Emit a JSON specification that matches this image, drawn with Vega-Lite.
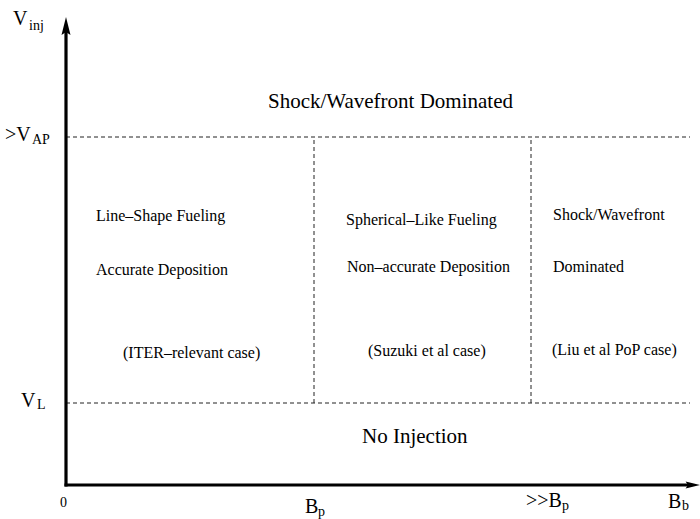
{
  "$schema": "https://vega.github.io/schema/vega-lite/v6.json",
  "width": 700,
  "height": 519,
  "autosize": {"type": "fit", "contains": "padding"},
  "padding": 0,
  "background": "white",
  "config": {"view": {"stroke": null}, "text": {"font": "Liberation Serif", "color": "black"}},
  "datasets": {
    "lines": [
      {"part": "axis", "x": 0, "x2": 0, "y": -1.5, "y2": 455},
      {"part": "axis", "x": -1.5, "x2": 622, "y": 0, "y2": 0},
      {"part": "dash", "x": 0, "x2": 624, "y": 348, "y2": 348},
      {"part": "dash", "x": 0, "x2": 624, "y": 82, "y2": 82},
      {"part": "dash", "x": 248, "x2": 248, "y": 82, "y2": 348},
      {"part": "dash", "x": 465, "x2": 465, "y": 82, "y2": 348}
    ],
    "arrows": [
      {"dir": "up", "x": 0, "y": 458},
      {"dir": "right", "x": 626, "y": 0}
    ],
    "labels": [
      {"kind": "title", "text": "Shock/Wavefront Dominated", "x": 202, "y": 377},
      {"kind": "title", "text": "No Injection", "x": 296, "y": 42},
      {"kind": "body", "text": "Line–Shape Fueling", "x": 30, "y": 264},
      {"kind": "body", "text": "Accurate Deposition", "x": 30, "y": 210},
      {"kind": "body", "text": "(ITER–relevant case)", "x": 57, "y": 127},
      {"kind": "body", "text": "Spherical–Like Fueling", "x": 280, "y": 260},
      {"kind": "body", "text": "Non–accurate Deposition", "x": 281, "y": 213},
      {"kind": "body", "text": "(Suzuki et al case)", "x": 302, "y": 129},
      {"kind": "body", "text": "Shock/Wavefront", "x": 487, "y": 265},
      {"kind": "body", "text": "Dominated", "x": 487, "y": 213},
      {"kind": "body", "text": "(Liu et al PoP case)", "x": 486, "y": 130},
      {"kind": "main", "text": "V", "x": -53, "y": 460},
      {"kind": "main", "text": ">V", "x": -61, "y": 344},
      {"kind": "main", "text": "V", "x": -45, "y": 78},
      {"kind": "main", "text": "B", "x": 239, "y": -28},
      {"kind": "main", "text": ">>B", "x": 460, "y": -22},
      {"kind": "main", "text": "B", "x": 602, "y": -23},
      {"kind": "sub", "text": "inj", "x": -37, "y": 455},
      {"kind": "sub", "text": "AP", "x": -34, "y": 341},
      {"kind": "sub", "text": "L", "x": -29, "y": 76},
      {"kind": "sub", "text": "p", "x": 252, "y": -31},
      {"kind": "sub", "text": "p", "x": 496, "y": -25},
      {"kind": "sub", "text": "b", "x": 616, "y": -25},
      {"kind": "sub", "text": "0", "x": -6, "y": -22}
    ]
  },
  "layer": [
    {
      "data": {"name": "lines"},
      "transform": [{"filter": "datum.part === 'dash'"}],
      "mark": {"type": "rule", "strokeWidth": 1, "strokeDash": [4, 3], "color": "#222222"},
      "encoding": {
        "x": {"field": "x", "type": "quantitative", "scale": {"domain": [-66, 634], "nice": false, "zero": false}, "axis": null},
        "x2": {"field": "x2"},
        "y": {"field": "y", "type": "quantitative", "scale": {"domain": [-34, 485], "nice": false, "zero": false}, "axis": null},
        "y2": {"field": "y2"}
      }
    },
    {
      "data": {"name": "lines"},
      "transform": [{"filter": "datum.part === 'axis'"}],
      "mark": {"type": "rule", "strokeWidth": 3.2, "color": "black", "strokeCap": "butt"},
      "encoding": {
        "x": {"field": "x", "type": "quantitative", "scale": {"domain": [-66, 634], "nice": false, "zero": false}, "axis": null},
        "x2": {"field": "x2"},
        "y": {"field": "y", "type": "quantitative", "scale": {"domain": [-34, 485], "nice": false, "zero": false}, "axis": null},
        "y2": {"field": "y2"}
      }
    },
    {
      "data": {"name": "arrows"},
      "transform": [{"filter": "datum.dir === 'up'"}],
      "mark": {"type": "point", "filled": true, "color": "black", "opacity": 1, "size": 400, "shape": "M0,-1L-0.45,0.8L0,0.5L0.45,0.8Z"},
      "encoding": {
        "x": {"field": "x", "type": "quantitative", "scale": {"domain": [-66, 634], "nice": false, "zero": false}, "axis": null},
        "y": {"field": "y", "type": "quantitative", "scale": {"domain": [-34, 485], "nice": false, "zero": false}, "axis": null}
      }
    },
    {
      "data": {"name": "arrows"},
      "transform": [{"filter": "datum.dir === 'right'"}],
      "mark": {"type": "point", "filled": true, "color": "black", "opacity": 1, "size": 256, "shape": "M1,0L-0.8,-0.45L-0.5,0L-0.8,0.45Z"},
      "encoding": {
        "x": {"field": "x", "type": "quantitative", "scale": {"domain": [-66, 634], "nice": false, "zero": false}, "axis": null},
        "y": {"field": "y", "type": "quantitative", "scale": {"domain": [-34, 485], "nice": false, "zero": false}, "axis": null}
      }
    },
    {
      "data": {"name": "labels"},
      "transform": [{"filter": "datum.kind === 'title'"}],
      "mark": {"type": "text", "align": "left", "baseline": "alphabetic", "fontSize": 21},
      "encoding": {
        "x": {"field": "x", "type": "quantitative", "scale": {"domain": [-66, 634], "nice": false, "zero": false}, "axis": null},
        "y": {"field": "y", "type": "quantitative", "scale": {"domain": [-34, 485], "nice": false, "zero": false}, "axis": null},
        "text": {"field": "text"}
      }
    },
    {
      "data": {"name": "labels"},
      "transform": [{"filter": "datum.kind === 'body'"}],
      "mark": {"type": "text", "align": "left", "baseline": "alphabetic", "fontSize": 16},
      "encoding": {
        "x": {"field": "x", "type": "quantitative", "scale": {"domain": [-66, 634], "nice": false, "zero": false}, "axis": null},
        "y": {"field": "y", "type": "quantitative", "scale": {"domain": [-34, 485], "nice": false, "zero": false}, "axis": null},
        "text": {"field": "text"}
      }
    },
    {
      "data": {"name": "labels"},
      "transform": [{"filter": "datum.kind === 'main'"}],
      "mark": {"type": "text", "align": "left", "baseline": "alphabetic", "fontSize": 20},
      "encoding": {
        "x": {"field": "x", "type": "quantitative", "scale": {"domain": [-66, 634], "nice": false, "zero": false}, "axis": null},
        "y": {"field": "y", "type": "quantitative", "scale": {"domain": [-34, 485], "nice": false, "zero": false}, "axis": null},
        "text": {"field": "text"}
      }
    },
    {
      "data": {"name": "labels"},
      "transform": [{"filter": "datum.kind === 'sub'"}],
      "mark": {"type": "text", "align": "left", "baseline": "alphabetic", "fontSize": 14},
      "encoding": {
        "x": {"field": "x", "type": "quantitative", "scale": {"domain": [-66, 634], "nice": false, "zero": false}, "axis": null},
        "y": {"field": "y", "type": "quantitative", "scale": {"domain": [-34, 485], "nice": false, "zero": false}, "axis": null},
        "text": {"field": "text"}
      }
    }
  ]
}
